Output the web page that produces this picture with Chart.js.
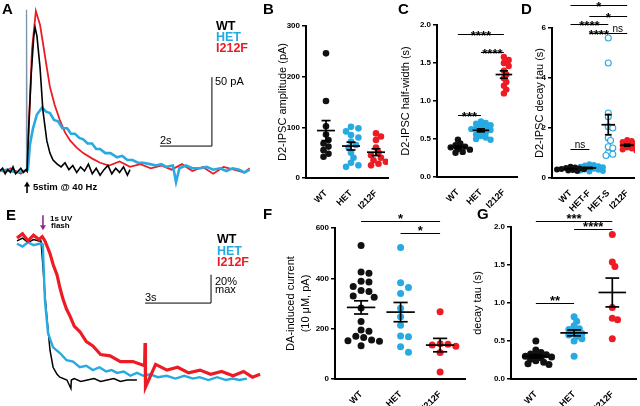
<!DOCTYPE html>
<html>
<head>
<meta charset="utf-8">
<script src="https://cdn.jsdelivr.net/npm/chart.js@4.4.1/dist/chart.umd.min.js"></script>
<style>
  body { margin: 0; width: 640px; height: 406px; position: relative; overflow: hidden; background: #fff;
         font-family: "Liberation Sans", Arial, sans-serif; }
  canvas { position: absolute; }
  .t { position: absolute; white-space: nowrap; line-height: 1; color: #000; }
  .b { font-weight: bold; }
  .blue { color: #27aae1; }
  .red { color: #ed1c24; }
</style>
</head>
<body>
<canvas id="cA" width="250" height="200" style="left:0;top:0"></canvas>
<canvas id="cE" width="270" height="206" style="left:0;top:200px"></canvas>
<canvas id="cB" width="135" height="215" style="left:262px;top:0"></canvas>
<canvas id="cC" width="131" height="215" style="left:392px;top:0"></canvas>
<canvas id="cD" width="117" height="215" style="left:523px;top:0"></canvas>
<canvas id="cF" width="210" height="206" style="left:262px;top:200px"></canvas>
<canvas id="cG" width="170" height="206" style="left:470px;top:200px"></canvas>

<div class="t b" style="left:2px;top:1px;font-size:15px">A</div>
<div class="t b" style="left:263px;top:1px;font-size:15px">B</div>
<div class="t b" style="left:398px;top:1px;font-size:15px">C</div>
<div class="t b" style="left:521px;top:1px;font-size:15px">D</div>
<div class="t b" style="left:6px;top:207px;font-size:15px">E</div>
<div class="t b" style="left:263px;top:206px;font-size:15px">F</div>
<div class="t b" style="left:477px;top:206px;font-size:15px">G</div>

<div class="t b" style="left:216px;top:20px;font-size:12.5px">WT</div>
<div class="t b blue" style="left:216px;top:31px;font-size:12.5px">HET</div>
<div class="t b red" style="left:216px;top:42px;font-size:12.5px">I212F</div>
<div class="t" style="left:215px;top:76px;font-size:11px">50 pA</div>
<div class="t" style="left:160px;top:135px;font-size:11px">2s</div>
<div class="t b" style="left:33px;top:182px;font-size:9.5px">5stim @ 40 Hz</div>

<div class="t b" style="left:217px;top:233px;font-size:12.5px">WT</div>
<div class="t b blue" style="left:217px;top:245px;font-size:12.5px">HET</div>
<div class="t b red" style="left:217px;top:256px;font-size:12.5px">I212F</div>
<div class="t" style="left:215px;top:276px;font-size:11px">20%</div>
<div class="t" style="left:215px;top:284px;font-size:11px">max</div>
<div class="t" style="left:145px;top:292px;font-size:11px">3s</div>
<div class="t b" style="left:50px;top:215px;font-size:8px">1s UV</div>
<div class="t b" style="left:51px;top:222px;font-size:8px">flash</div>

<script>
const BLACK = '#111', BLUE = '#27aae1', RED = '#ed1c24', PURPLE = '#8e2a8b';
Chart.defaults.font.family = '"Liberation Sans", Arial, sans-serif';
Chart.defaults.color = '#000';

// ---- A: D2-IPSC traces (time s, current pA) ----
const aBlackT = [0,0.1,0.2,0.3,0.4,0.5,0.6,0.7,0.8,0.9,1.0,1.04,1.1,1.2,1.3,1.35,1.42,1.54,1.65,1.8,1.92,2.04,2.2,2.35,2.5,2.65,2.8,2.95,3.1,3.25,3.4,3.55,3.7,3.85,4.0,4.15,4.3,4.45,4.6,4.75,4.9,5.0];
const aBlackV = [0,2,-2,1,-1,3,-2,0,2,-1,1,0,30,70,98,104,98,75,44,22,13,8,5,3,6,1,4,-1,3,0,5,-2,2,-3,1,4,-2,2,-1,3,-3,1];
const aRedT = [0,0.2,0.4,0.6,0.8,1.0,1.04,1.12,1.23,1.38,1.54,1.65,1.8,1.92,2.1,2.3,2.5,2.7,2.95,3.2,3.55,3.85,4.2,4.6,5.0,5.4,5.8,6.2,6.6,7.0,7.4,7.8,8.2,8.6,9.0,9.4,9.6];
const aRedV = [1,-1,2,0,-2,1,0,37,88,116,106,93,75,61,48,37,28,22,17,13,9,6,4,7,3,5,2,4,1,5,0,3,-2,3,1,-1,2];
const aBlueT = [0,0.3,0.6,0.9,1.0,1.02,1.04,1.08,1.15,1.27,1.42,1.62,1.77,1.92,2.08,2.23,2.4,2.58,2.73,2.88,3.05,3.2,3.37,3.54,3.7,3.85,4.05,4.25,4.5,4.7,4.9,5.1,5.3,5.5,5.77,6.0,6.2,6.4,6.65,6.77,6.9,7.15,7.4,7.7,7.95,8.2,8.46,8.7,8.95,9.2,9.4,9.6];
const aBlueV = [0,1,-1,0,0,117,0,2,19,31,41,46,43,42,37,36,31,31,27,27,24,23,20,20,16,16,13,13,10,11,8,8,6,6,5,4,5,3,4,-8,2,4,2,2,3,1,2,0,2,1,-1,1];

// ---- E: DA-induced current traces (time s, % max) ----
const eBlackT = [0,0.25,0.5,0.75,1.0,1.09,1.18,1.27,1.36,1.5,1.64,1.82,1.95,2.27,2.45,2.47,2.6,2.9,3.2,3.5,3.8,4.1,4.4,4.7,5.0,5.45];
const eBlackV = [98,100,97,99,98,98,80,60,44,21,9,4,2,0,-6,0,1,-1,0,1,-1,0,1,-1,0,0];
const eBlueT = [0,0.25,0.5,0.75,1.0,1.14,1.18,1.27,1.41,1.64,1.95,2.25,2.55,2.85,3.15,3.45,3.75,4.05,4.3,4.55,4.85,5.15,5.45,5.75,6.05,6.4,6.8,7.2,7.6,8.0,8.3,8.7,9.1,9.5,9.8,10.1,10.45];
const eBlueV = [96,94,97,95,96,96,92,56,33,23,19,14,13,9,10,7,9,6,7,5,6,3,5,3,4,2,3,1,3,1,2,0,2,0,1,0,1];
const eRedT = [0,0.25,0.5,0.75,1.0,1.15,1.27,1.4,1.5,1.65,1.82,1.95,2.09,2.25,2.41,2.6,2.86,3.15,3.45,3.8,4.23,4.7,5.27,5.8,5.82,5.84,6.3,6.82,7.3,7.8,8.32,8.8,9.3,9.82,10.3,10.7,11.05];
const eRedV = [100,103,98,102,99,101,98,93,89,81,74,65,57,50,45,38,34,27,24,18,17,13,13,10,26,-5,11,7,9,5,7,4,6,3,6,2,4];

// ---- dot plots ----
const cats3 = ['WT', 'HET', 'I212F'];
const catsD = ['WT', 'HET-F', 'HET-S', 'I212F'];

const bWT = [246, 152, 102, 86, 75, 68, 62, 55, 48, 42];
const bHET = [101, 98, 92, 85, 80, 72, 65, 60, 50, 40, 30, 25, 22];
const bI212F = [88, 82, 75, 60, 50, 45, 40, 35, 32, 28, 25];

const cWT = [0.49, 0.44, 0.42, 0.40, 0.39, 0.37, 0.36, 0.33, 0.32];
const cHET = [0.73, 0.71, 0.70, 0.68, 0.67, 0.65, 0.64, 0.63, 0.62, 0.60, 0.58, 0.56, 0.54, 0.52, 0.50, 0.49];
const cI212F = [1.58, 1.54, 1.50, 1.46, 1.40, 1.35, 1.30, 1.25, 1.20, 1.15, 1.10];

const dWT = [0.45, 0.42, 0.40, 0.38, 0.36, 0.35, 0.34, 0.32, 0.30, 0.28];
const dHETF = [0.55, 0.52, 0.50, 0.47, 0.45, 0.43, 0.41, 0.39, 0.37, 0.35, 0.33, 0.30, 0.28, 0.26];
const dHETS = [5.6, 4.6, 2.6, 2.45, 2.05, 2.0, 1.6, 1.5, 1.25, 1.2, 1.0, 0.95, 0.9];
const dI212F = [1.52, 1.48, 1.44, 1.40, 1.36, 1.32, 1.30, 1.26, 1.22, 1.18, 1.14, 1.10];

const fWT = [530, 425, 420, 388, 385, 368, 352, 348, 330, 325, 282, 228, 195, 190, 170, 165, 155, 152, 150, 132];
const fHET = [523, 382, 364, 340, 281, 247, 214, 171, 168, 128, 106];
const fI212F = [267, 140, 138, 135, 130, 105, 28];

const gWT = [0.50, 0.38, 0.35, 0.33, 0.32, 0.31, 0.30, 0.29, 0.28, 0.26, 0.24, 0.22, 0.20, 0.19];
const gHET = [0.82, 0.76, 0.70, 0.66, 0.65, 0.62, 0.60, 0.58, 0.56, 0.53, 0.50, 0.30];
const gI212F = [1.90, 1.54, 1.48, 0.94, 0.80, 0.78, 0.53];

// significance bars: [from group, to group, y value, label]
const cSig = [[0, 2, 1.88, '****'], [1, 2, 1.65, '****'], [0, 1, 0.81, '***']];
const dSig = [[0, 3, 6.9, '*'], [1, 3, 6.5, '*'], [0, 2, 6.15, '****'], [1, 2, 5.8, '****'], [2, 3, 5.8, 'ns'], [0, 1, 1.15, 'ns']];
const fSig = [[0, 2, 629, '*'], [1, 2, 579, '*']];
const gSig = [[0, 2, 2.08, '***'], [1, 2, 1.97, '****'], [0, 1, 1.0, '**']];

const pts = (t, v) => t.map((x, i) => ({x, y: v[i]}));

function line(ctx, x0, y0, x1, y1) {
  ctx.beginPath(); ctx.moveTo(x0, y0); ctx.lineTo(x1, y1); ctx.stroke();
}

// scale bar + stimulus arrow for the trace panels
const traceExtras = {
  id: 'traceExtras',
  afterDraw(chart, args, o) {
    const {ctx, scales: {x, y}} = chart;
    ctx.save();
    ctx.strokeStyle = '#000'; ctx.lineWidth = 1;
    const x0 = x.getPixelForValue(o.bar.t0), x1 = x.getPixelForValue(o.bar.t0 + o.bar.dt);
    const y0 = y.getPixelForValue(o.bar.v0), y1 = y.getPixelForValue(o.bar.v0 + o.bar.dv);
    line(ctx, x0, y0, x1, y0);
    line(ctx, x1, y0, x1, y1);
    // arrow
    const ax = x.getPixelForValue(o.arrow.t);
    const tip = y.getPixelForValue(o.arrow.tip), tail = y.getPixelForValue(o.arrow.tail);
    const dir = tip < tail ? 1 : -1;
    ctx.strokeStyle = o.arrow.color; ctx.fillStyle = o.arrow.color; ctx.lineWidth = 1.6;
    line(ctx, ax, tail, ax, tip + dir * 4);
    ctx.beginPath();
    ctx.moveTo(ax, tip); ctx.lineTo(ax - 3, tip + dir * 5); ctx.lineTo(ax + 3, tip + dir * 5); ctx.closePath();
    ctx.fill();
    ctx.restore();
  }
};

function traceChart(id, sets, xr, yr, extras) {
  return new Chart(document.getElementById(id), {
    type: 'line',
    data: {datasets: sets},
    options: {
      responsive: false, animation: false, events: [],
      layout: {padding: 0},
      elements: {point: {radius: 0}, line: {tension: 0}},
      plugins: {legend: {display: false}, tooltip: {enabled: false}, traceExtras: extras},
      scales: {
        x: {type: 'linear', display: false, min: xr[0], max: xr[1]},
        y: {display: false, min: yr[0], max: yr[1]}
      }
    },
    plugins: [traceExtras]
  });
}

traceChart('cA', [
  {data: pts(aBlackT, aBlackV), borderColor: '#000', borderWidth: 1.6},
  {data: pts(aBlueT, aBlueV), borderColor: BLUE, borderWidth: 2.6,
   // the stimulus artefact is a thin, greyish line
   segment: {
     borderWidth: c => (c.p0DataIndex === 4 || c.p0DataIndex === 5) ? 1.3 : undefined,
     borderColor: c => (c.p0DataIndex === 4 || c.p0DataIndex === 5) ? '#7f93a8' : undefined
   }},
  {data: pts(aRedT, aRedV), borderColor: RED, borderWidth: 1.8}
], [0, 9.615], [-21, 124], {
  bar: {t0: 6.15, dt: 2, v0: 18.1, dv: 50},
  arrow: {t: 1.04, tip: -7.5, tail: -16, color: '#000'}
});

traceChart('cE', [
  {data: pts(eRedT, eRedV), borderColor: RED, borderWidth: 3.2},
  {data: pts(eBlueT, eBlueV), borderColor: BLUE, borderWidth: 2.4},
  {data: pts(eBlackT, eBlackV), borderColor: '#000', borderWidth: 1.5}
], [-0.773, 11.5], [-18.3, 126.8], {
  bar: {t0: 5.82, dt: 3, v0: 54.2, dv: 20},
  arrow: {t: 1.18, tip: 105.5, tail: 116, color: PURPLE}
});

// beeswarm: spread overlapping dots sideways
const swarm = {
  id: 'swarm',
  afterDatasetsUpdate(chart, args, o) {
    chart.data.datasets.forEach((ds, i) => {
      const els = chart.getDatasetMeta(i).data.slice().sort((a, b) => a.y - b.y);
      const d = o.r * o.pack, step = o.r * 0.75;
      const placed = [];
      els.forEach(p => {
        let off = 0;
        for (let k = 0; k < 40; k++) {
          off = (k % 2 ? 1 : -1) * Math.ceil(k / 2) * step;
          if (placed.every(q => (q.x - off) ** 2 + (q.y - p.y) ** 2 >= d * d)) break;
        }
        placed.push({x: off, y: p.y});
        p.x += off;
      });
    });
  }
};

// mean +/- SEM
const summary = {
  id: 'summary',
  afterDatasetsDraw(chart) {
    const {ctx, scales: {x, y}} = chart;
    ctx.save();
    ctx.strokeStyle = '#000'; ctx.lineWidth = 1.7;
    chart.data.datasets.forEach(ds => {
      const vals = ds.data.map(p => p.y), n = vals.length;
      const m = vals.reduce((a, b) => a + b, 0) / n;
      const sd = Math.sqrt(vals.reduce((a, b) => a + (b - m) ** 2, 0) / (n - 1));
      const se = sd / Math.sqrt(n);
      const c = ds.data[0].x, xc = x.getPixelForValue(c);
      const ym = y.getPixelForValue(m), yt = y.getPixelForValue(m + se), yb = y.getPixelForValue(m - se);
      line(ctx, x.getPixelForValue(c - 0.36), ym, x.getPixelForValue(c + 0.36), ym);
      line(ctx, x.getPixelForValue(c - 0.18), yt, x.getPixelForValue(c + 0.18), yt);
      line(ctx, x.getPixelForValue(c - 0.18), yb, x.getPixelForValue(c + 0.18), yb);
      line(ctx, xc, yt, xc, yb);
    });
    ctx.restore();
  }
};

// significance brackets
const sig = {
  id: 'sig',
  afterDraw(chart, args, o) {
    if (!o.bars) return;
    const {ctx, scales: {x, y}} = chart;
    ctx.save();
    ctx.strokeStyle = '#000'; ctx.fillStyle = '#000'; ctx.lineWidth = 1; ctx.textAlign = 'center';
    o.bars.forEach(([a, b, v, label]) => {
      const x0 = x.getPixelForValue(a), x1 = x.getPixelForValue(b);
      const yy = Math.round(y.getPixelForValue(v)) + 0.5;
      line(ctx, x0, yy, x1, yy);
      if (label === 'ns') {
        ctx.font = '10px "Liberation Sans", Arial';
        ctx.fillText(label, (x0 + x1) / 2, yy - 1.5);
      } else {
        ctx.font = 'bold 13px "Liberation Sans", Arial';
        ctx.fillText(label, (x0 + x1) / 2, yy + o.starDy);
      }
    });
    ctx.restore();
  }
};

function dotChart(id, o) {
  const datasets = o.groups.map((g, i) => ({
    data: g.values.map(v => ({x: i, y: v})),
    pointRadius: o.r,
    pointBackgroundColor: g.open ? '#fff' : g.color,
    pointBorderColor: g.color,
    pointBorderWidth: g.open ? 1.1 : 0
  }));
  return new Chart(document.getElementById(id), {
    type: 'scatter',
    data: {datasets},
    options: {
      responsive: false, animation: false, events: [],
      layout: {padding: {top: o.top, right: o.right, left: 0, bottom: 0}},
      plugins: {legend: {display: false}, tooltip: {enabled: false},
                swarm: {r: o.r, pack: o.pack}, sig: {bars: o.sig, starDy: o.starDy}},
      scales: {
        x: {
          type: 'linear', min: o.x[0], max: o.x[1],
          afterBuildTicks: s => { s.ticks = o.cats.map((c, i) => ({value: i})); },
          afterFit: s => { s.height = o.axisH; },
          ticks: {callback: v => o.cats[v], minRotation: 45, maxRotation: 45, autoSkip: false,
                  padding: 2, font: {size: 9, weight: 'bold'}, color: '#000'},
          grid: {display: false},
          border: {color: '#000', width: 2}
        },
        y: {
          min: o.y[0], max: o.y[1],
          afterFit: s => { s.width = o.axisW; },
          ticks: {stepSize: o.y[2], callback: o.fmt, padding: 2, font: {size: 8, weight: 'bold'}, color: '#000'},
          grid: {drawOnChartArea: false, tickLength: 4, color: '#000', lineWidth: 1.5},
          border: {color: '#000', width: 2},
          title: {display: true, text: o.title, color: '#000',
                  font: {size: 11, lineHeight: o.titleLH || 1.2}, padding: {top: o.titlePad, bottom: 0}}
        }
      }
    },
    plugins: [swarm, summary, sig]
  });
}

const f1 = v => v.toFixed(1);
const f0 = v => String(v);

dotChart('cB', {
  groups: [{values: bWT, color: BLACK}, {values: bHET, color: BLUE}, {values: bI212F, color: RED}],
  cats: cats3, r: 3.3, pack: 1.7, top: 26, right: 9, axisW: 44, axisH: 37, titlePad: 14.4,
  x: [-0.8, 2.48], y: [0, 300, 100], fmt: f0, title: 'D2-IPSC amplitude (pA)'
});

dotChart('cC', {
  groups: [{values: cWT, color: BLACK}, {values: cHET, color: BLUE}, {values: cI212F, color: RED}],
  cats: cats3, r: 3.2, pack: 1.25, top: 25, right: 6, axisW: 45, axisH: 38, titlePad: 7.4,
  x: [-0.91, 2.57], y: [0, 2, 0.5], fmt: f1, title: 'D2-IPSC half-width (s)', sig: cSig, starDy: 5
});

dotChart('cD', {
  groups: [{values: dWT, color: BLACK}, {values: dHETF, color: BLUE}, {values: dHETS, color: BLUE, open: true}, {values: dI212F, color: RED}],
  cats: catsD, r: 3, pack: 1.1, top: 28, right: 3, axisW: 29, axisH: 37, titlePad: 10.4,
  x: [-0.98, 3.41], y: [0, 6, 2], fmt: f0, title: 'D2-IPSC decay tau (s)', sig: dSig, starDy: 5
});

dotChart('cF', {
  groups: [{values: fWT, color: BLACK}, {values: fHET, color: BLUE}, {values: fI212F, color: RED}],
  cats: cats3, r: 3.5, pack: 2.2, top: 28, right: 7, axisW: 73, axisH: 27, titlePad: 21.5, titleLH: 15 / 11,
  x: [-0.66, 2.63], y: [0, 600, 200], fmt: f0, title: ['DA-induced current', '(10 μM, pA)'], sig: fSig, starDy: 1
});

dotChart('cG', {
  groups: [{values: gWT, color: BLACK}, {values: gHET, color: BLUE}, {values: gI212F, color: RED}],
  cats: cats3, r: 3.5, pack: 1.4, top: 27, right: 3, axisW: 41, axisH: 27, titlePad: 1.4,
  x: [-0.65, 2.62], y: [0, 2, 0.5], fmt: f1, title: 'decay tau (s)', sig: gSig, starDy: 1
});
</script>
</body>
</html>
